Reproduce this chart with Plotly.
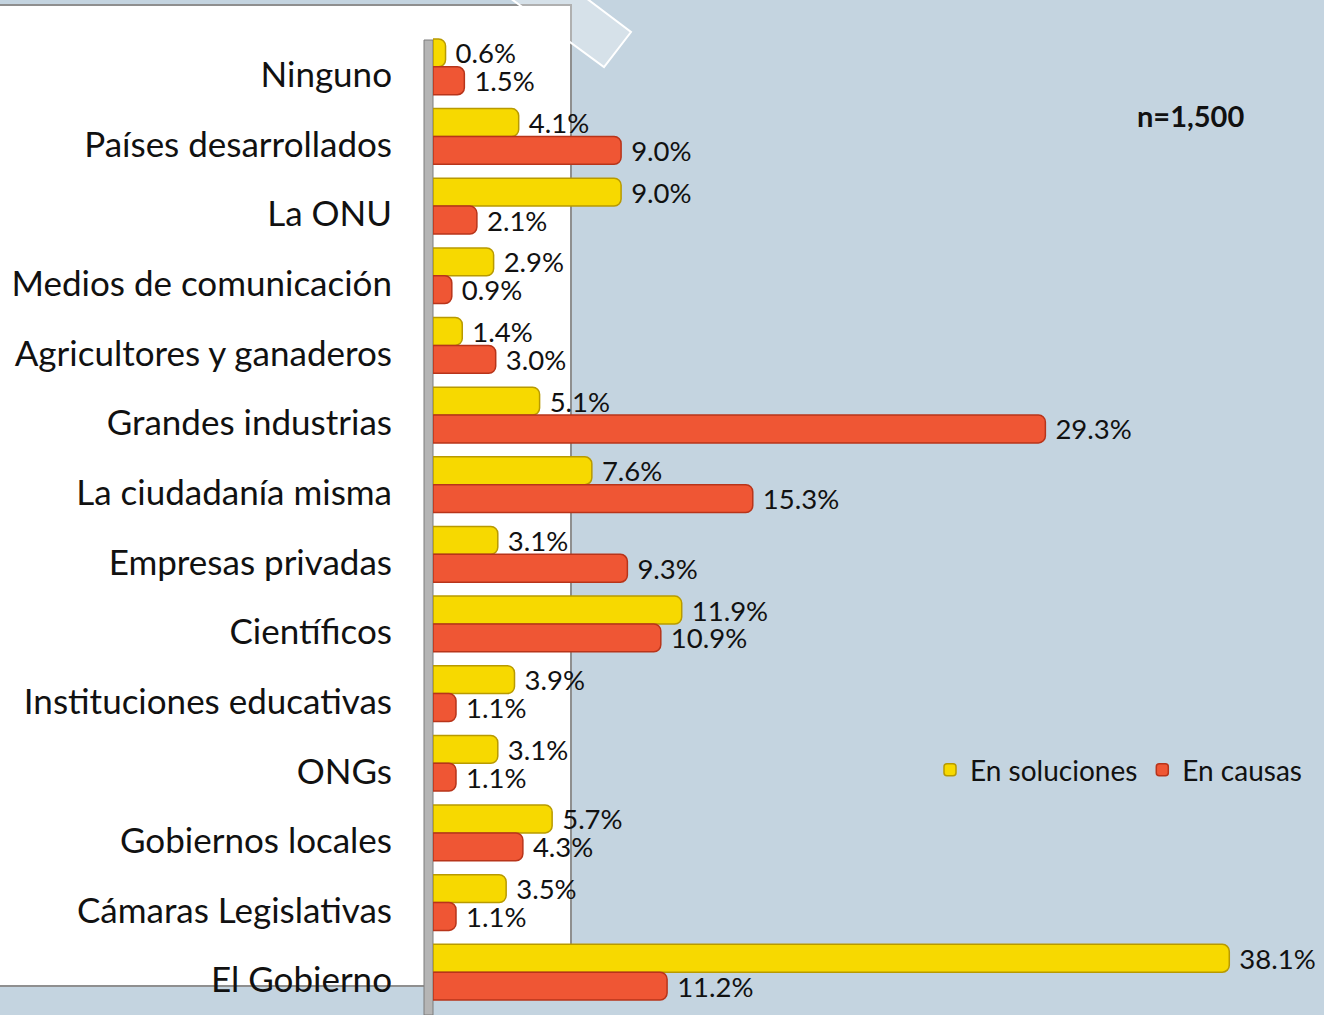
import plotly.graph_objects as go

categories = ["Ninguno", "Países desarrollados", "La ONU", "Medios de comunicación",
              "Agricultores y ganaderos", "Grandes industrias", "La ciudadanía misma",
              "Empresas privadas", "Científicos", "Instituciones educativas", "ONGs",
              "Gobiernos locales", "Cámaras Legislativas", "El Gobierno"]
soluciones = [0.6, 4.1, 9.0, 2.9, 1.4, 5.1, 7.6, 3.1, 11.9, 3.9, 3.1, 5.7, 3.5, 38.1]
causas = [1.5, 9.0, 2.1, 0.9, 3.0, 29.3, 15.3, 9.3, 10.9, 1.1, 1.1, 4.3, 1.1, 11.2]

W, H = 1324, 1015
L, R, T, B = 433, 0, 32, 8
PW, PH = W - L - R, H - T - B
FONT = "Lato, 'Open Sans', sans-serif"

def px(x):
    return (x - L) / PW

def py(y):
    return 1 - (y - T) / PH

fig = go.Figure()
fig.add_trace(go.Bar(
    y=categories, x=soluciones, orientation="h", name="En soluciones",
    marker=dict(color="#f7d900", line=dict(color="#b89a00", width=1.5), cornerradius=7),
    texttemplate=" %{x:.1f}%", textposition="outside", constraintext="none",
    textfont=dict(size=27.5, color="#111111", family=FONT), cliponaxis=False))
fig.add_trace(go.Bar(
    y=categories, x=causas, orientation="h", name="En causas",
    marker=dict(color="#ef5634", line=dict(color="#b8341a", width=1.5), cornerradius=7),
    texttemplate=" %{x:.1f}%", textposition="outside", constraintext="none",
    textfont=dict(size=27.5, color="#111111", family=FONT), cliponaxis=False))

shapes = [
    # white panel
    dict(type="rect", xref="paper", yref="paper", layer="below",
         x0=px(-5), x1=px(571), y0=py(986), y1=py(5),
         fillcolor="white", line=dict(color="#8f8f8f", width=2)),
    # decorative tilted rectangle
    dict(type="path", xref="paper", yref="paper", layer="below",
         path=f"M {px(510)} {py(-2)} L {px(604)} {py(67)} L {px(631)} {py(32)} L {px(586)} {py(-2)} Z",
         fillcolor="rgba(255,255,255,0.3)", line=dict(color="white", width=2)),
    # axis wall
    dict(type="rect", xref="paper", yref="paper", layer="below",
         x0=px(424), x1=px(433), y0=py(1015), y1=py(40),
         fillcolor="#b5b5b5", line=dict(color="#7d7d7d", width=1)),
]

fig.update_layout(
    width=W, height=H,
    margin=dict(l=L, r=R, t=T, b=B),
    paper_bgcolor="#c4d4e0", plot_bgcolor="rgba(0,0,0,0)",
    barmode="group", bargap=0.2, bargroupgap=0.0,
    font=dict(family=FONT, color="#111111"),
    xaxis=dict(range=[0, PW / 20.9], visible=False, showgrid=False),
    yaxis=dict(autorange="reversed", showgrid=False, showline=False, ticks="",
               tickfont=dict(size=35, color="#111111", family=FONT),
               ticklabelstandoff=40, ticklabelshift=-8),
    legend=dict(orientation="h", x=px(930), y=py(770), xanchor="left", yanchor="middle",
                font=dict(size=28, family=FONT), bgcolor="rgba(0,0,0,0)",
                itemwidth=30, tracegroupgap=0),
    shapes=shapes,
    annotations=[dict(text="<b>n=1,500</b>", xref="paper", yref="paper",
                      x=px(1190), y=py(116), xanchor="center", yanchor="middle",
                      showarrow=False,
                      font=dict(size=29, family=FONT, color="#111111"))],
    showlegend=True,
)

fig.write_html("out.html", config={"displayModeBar": False},
               post_script="document.body.style.margin='0';document.body.style.overflow='hidden';")
